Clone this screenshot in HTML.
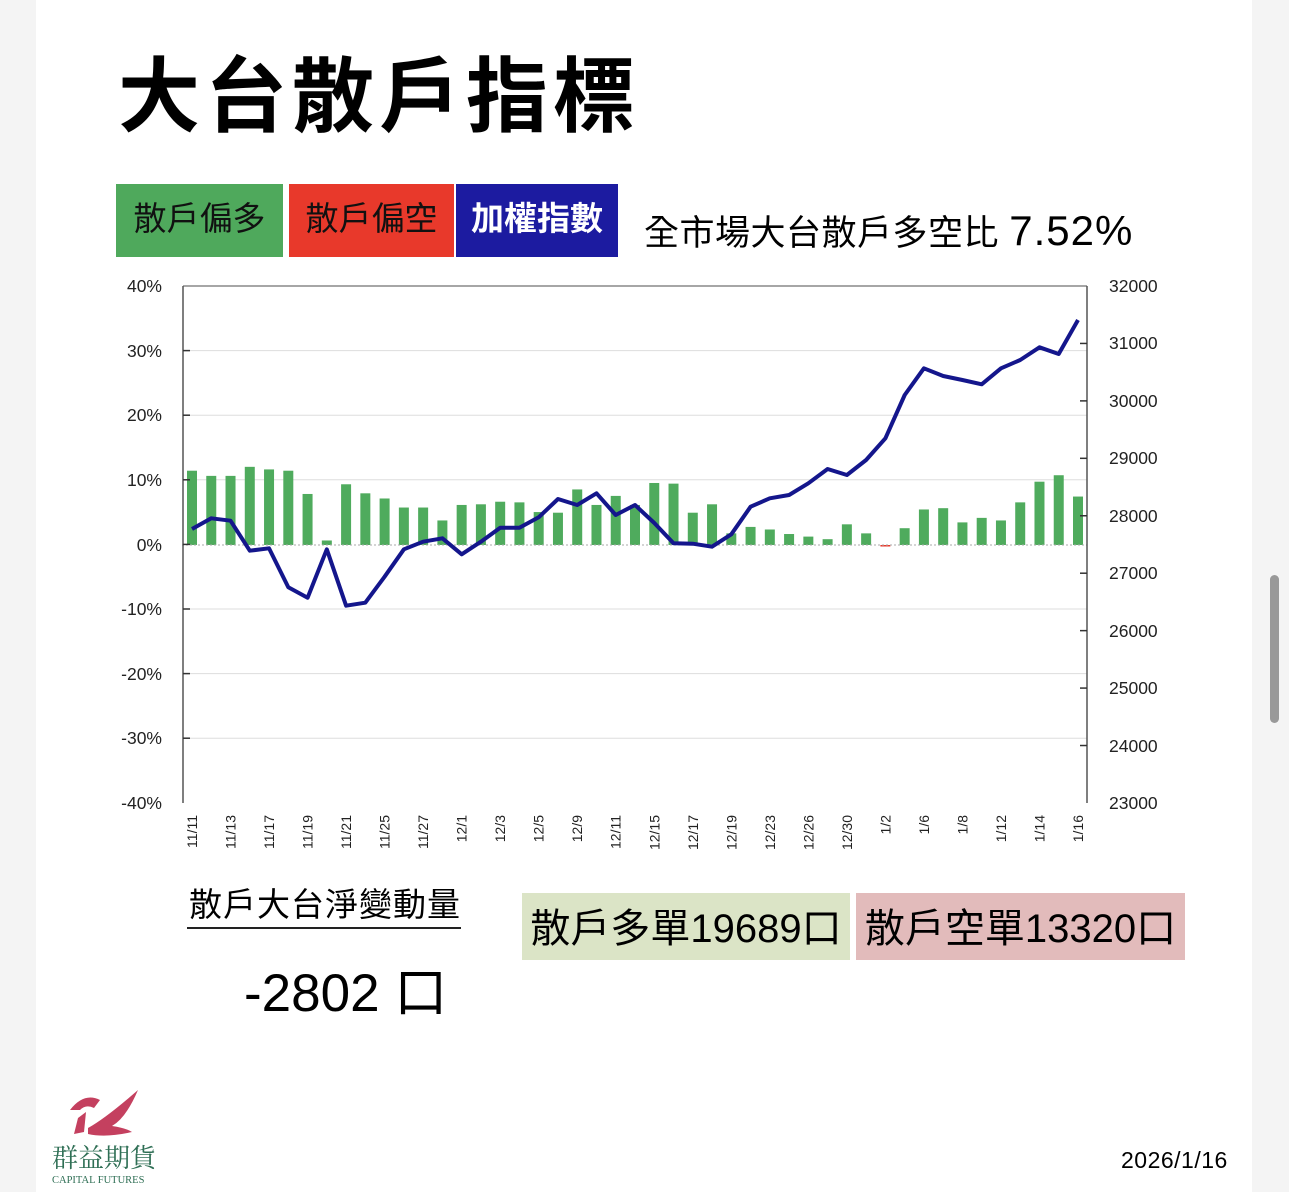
<!DOCTYPE html>
<html><head><meta charset="utf-8"><style>
body{margin:0;width:1289px;height:1192px;background:#f4f4f4;position:relative;overflow:hidden;font-family:"Liberation Sans","Noto Sans CJK TC",sans-serif;}
#pg{position:absolute;left:36px;top:0;width:1216px;height:1192px;background:#fff;}
.a{position:absolute;white-space:nowrap;}
</style></head><body>
<div id="pg"></div>
<div class="a" style="left:118px;top:52px;font-size:82px;font-weight:bold;line-height:92px;letter-spacing:5px;">大台散戶指標</div>
<div class="a" style="left:116px;top:184px;width:167px;height:73px;background:#4fa95c;color:#111;font-size:33px;line-height:70px;text-align:center;">散戶偏多</div>
<div class="a" style="left:289px;top:184px;width:165px;height:73px;background:#e8392b;color:#111;font-size:33px;line-height:70px;text-align:center;">散戶偏空</div>
<div class="a" style="left:456px;top:184px;width:162px;height:73px;background:#1c1ba0;color:#fff;font-size:33px;line-height:70px;text-align:center;font-weight:bold;">加權指數</div>
<div class="a" style="left:644px;top:206px;font-size:35px;line-height:50px;letter-spacing:0.5px;">全市場大台散戶多空比 <span style="font-size:42px;letter-spacing:1px">7.52%</span></div>
<svg class="a" style="left:0;top:0" width="1289" height="1192" id="ch">
<g font-size="17.5" fill="#222" text-anchor="end">
<text x="162" y="292">40%</text><text x="162" y="357">30%</text><text x="162" y="421">20%</text><text x="162" y="486">10%</text><text x="162" y="551">0%</text><text x="162" y="615">-10%</text><text x="162" y="680">-20%</text><text x="162" y="744">-30%</text><text x="162" y="809">-40%</text>
</g>
<g font-size="17.5" fill="#222">
<text x="1109" y="292">32000</text><text x="1109" y="349">31000</text><text x="1109" y="407">30000</text><text x="1109" y="464">29000</text><text x="1109" y="522">28000</text><text x="1109" y="579">27000</text><text x="1109" y="637">26000</text><text x="1109" y="694">25000</text><text x="1109" y="752">24000</text><text x="1109" y="809">23000</text>
</g>
<g id="grid" stroke="#ddd" stroke-width="1"></g>
<g id="bars"></g>
<line x1="182" y1="545" x2="1087" y2="545" stroke="#aaa" stroke-width="1" stroke-dasharray="2,2"/>
<polyline id="ln" fill="none" stroke="#14168c" stroke-width="4" stroke-linejoin="round"/>
<line x1="183" y1="286" x2="1087" y2="286" stroke="#888" stroke-width="1.5"/>
<line x1="183" y1="286" x2="183" y2="803" stroke="#555" stroke-width="1.5"/>
<line x1="1087" y1="286" x2="1087" y2="803" stroke="#555" stroke-width="1.5"/>
<g id="tk" stroke="#333" stroke-width="1.5"></g>
<g id="xl" font-size="14" fill="#222"></g>
<line x1="187" y1="928" x2="461" y2="928" stroke="#222" stroke-width="2"/>
</svg>
<div class="a" style="left:189px;top:883px;font-size:33px;line-height:44px;letter-spacing:1px;">散戶大台淨變動量</div>
<div class="a" style="left:244px;top:963px;font-size:53px;line-height:62px;">-2802 口</div>
<div class="a" style="left:522px;top:893px;width:328px;height:67px;background:#dbe4c6;font-size:40px;line-height:72px;text-align:center;">散戶多單19689口</div>
<div class="a" style="left:856px;top:893px;width:329px;height:67px;background:#e2bbbb;font-size:40px;line-height:72px;text-align:center;">散戶空單13320口</div>
<svg class="a" style="left:66px;top:1088px" width="80" height="52"><path d="M4 22 Q18 4 34 12 L28 20 Q20 16 14 22 Z M12 30 L20 24 L18 44 L8 46 Z M22 40 Q40 30 72 2 Q60 30 46 38 Q60 40 66 44 Q40 50 22 46 Z" fill="#c4405f"/></svg>
<div class="a" style="left:52px;top:1140px;font-family:'Noto Serif CJK SC',serif;font-size:26px;color:#2f6f55;line-height:34px;">群益期貨</div>
<div class="a" style="left:52px;top:1175px;font-family:'Liberation Serif',serif;font-size:10.5px;color:#2f6f55;">CAPITAL FUTURES</div>
<div class="a" style="left:1121px;top:1147px;font-size:23px;letter-spacing:0.5px;">2026/1/16</div>
<div class="a" style="left:1270px;top:575px;width:9px;height:148px;background:#999;border-radius:5px;"></div>
<script>
var ns="http://www.w3.org/2000/svg";
function el(p,t,a){var e=document.createElementNS(ns,t);for(var k in a)e.setAttribute(k,a[k]);document.getElementById(p).appendChild(e);return e;}
for(var i=1;i<8;i++){var y=286+i*64.6;if(i!=4)el("grid","line",{x1:183,x2:1087,y1:y,y2:y});el("tk","line",{x1:183,x2:190,y1:y,y2:y});}
for(var i=1;i<9;i++){var y=286+i*57.44;el("tk","line",{x1:1080,x2:1087,y1:y,y2:y});}
var v=[11.5,10.7,10.7,12.1,11.7,11.5,7.9,0.7,9.4,8.0,7.2,5.8,5.8,3.8,6.2,6.3,6.7,6.6,5.1,5.0,8.6,6.2,7.6,6.2,9.6,9.5,5.0,6.3,1.8,2.8,2.4,1.7,1.3,0.9,3.2,1.8,-0.2,2.6,5.5,5.7,3.5,4.2,3.8,6.6,9.8,10.8,7.5];
var sp=(1078-192)/46;
for(var i=0;i<47;i++){var x=192+i*sp,h=v[i]*6.46;el("bars","rect",{x:x-5,width:10,y:h>0?545-h:545,height:Math.max(Math.abs(h),1.5),fill:h>0?"#4fab5d":"#e8392b"});}
var L=[529,518.3,520.7,550.7,548.3,587.3,597.7,549.3,605.7,602.7,576.7,549.3,541.7,538.3,554.3,541.7,527.7,527.7,517.3,499,505,493.3,515,505,523,543.3,543.7,546.7,534.3,506.7,498.3,495,483.3,469,475,460,438.3,395,368.3,376,380,384.3,368.3,360,347.3,354,320];
var pts=L.map(function(y,i){return (192+i*sp).toFixed(1)+","+y}).join(" ");
document.getElementById("ln").setAttribute("points",pts);
var lb=["11/11","11/13","11/17","11/19","11/21","11/25","11/27","12/1","12/3","12/5","12/9","12/11","12/15","12/17","12/19","12/23","12/26","12/30","1/2","1/6","1/8","1/12","1/14","1/16"];
for(var i=0;i<24;i++){var x=192+i*2*sp+5;var t=el("xl","text",{transform:"translate("+x+",815) rotate(-90)","text-anchor":"end"});t.textContent=lb[i];}
</script>
</body></html>
